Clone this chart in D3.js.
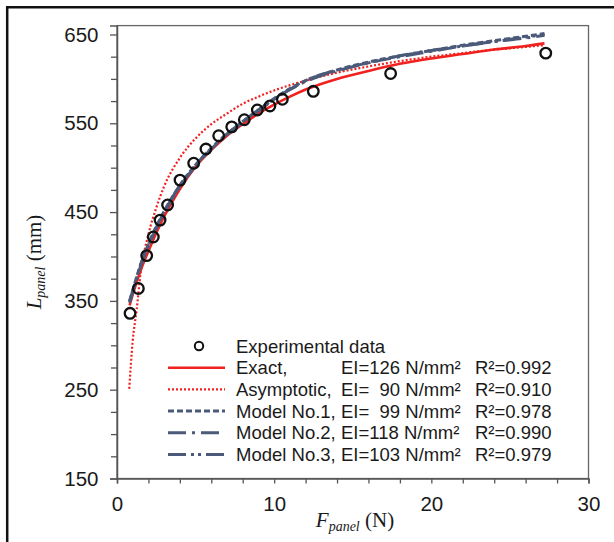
<!DOCTYPE html>
<html>
<head>
<meta charset="utf-8">
<script src="https://cdn.jsdelivr.net/npm/d3@7"></script>
<style>
  html, body { margin: 0; padding: 0; background: #fff; }
  svg { display: block; }
</style>
</head>
<body>
<svg id="chart" width="614" height="542"></svg>
<script>
// ---- data ----
const expF = [0.83, 1.36, 1.89, 2.31, 2.74, 3.22, 4.01, 4.88, 5.66, 6.47, 7.30, 8.10, 8.93, 9.73, 10.52, 12.49, 17.41, 27.28];
const expL = [336, 364, 401, 422, 441, 458, 486, 505, 521, 536, 546, 554, 565, 569.5, 577, 586, 606, 629];

const curveF   = [0.8, 1, 1.5, 2, 3, 4, 5, 6, 7, 8, 9, 10, 11, 12, 14, 16, 18, 20, 22, 24, 26, 27.2];
const exactL   = [345, 357, 384, 406, 445, 476, 501, 520, 536, 549, 561, 571, 580, 588, 600, 609, 617, 623, 628, 633, 637, 640];
const model1L  = [350, 362, 391, 414, 451, 480, 503, 522, 538, 552, 565, 578, 589, 598, 610, 619, 626, 632, 638, 643, 648, 651];
const model2L  = [348, 360, 389, 412, 449, 479, 502, 521, 537, 551, 564, 577, 588, 597, 609, 618, 625, 631, 637, 642, 646, 649];
const model3L  = [349, 361, 390, 413, 450, 480, 503, 522, 538, 552, 565, 577, 588, 598, 610, 618, 626, 632, 637, 642, 647, 650];

const asymF = [0.78, 1, 1.25, 1.5, 2, 2.5, 3, 4, 5, 6, 7, 8, 9, 10, 12, 14, 16, 18, 20, 22, 24, 26, 27.2];
const asymL = [251, 305, 340, 381, 425, 455, 479, 511, 533, 549, 561, 572, 580, 587, 598, 607, 614, 620, 625, 629, 633, 636, 638];

const yMajorTicks = [150, 250, 350, 450, 550, 650];
const yMinorTicks = [175, 200, 225, 275, 300, 325, 375, 400, 425, 475, 500, 525, 575, 600, 625];
const xMajorTicks = [0, 10, 20, 30];
const xMinorTicks = [2, 4, 6, 8, 12, 14, 16, 18, 22, 24, 26, 28];

const legendNames = ["Experimental data", "Exact,", "Asymptotic,", "Model No.1,", "Model No.2,", "Model No.3,"];
const legendEI    = ["", "EI=126 N/mm\u00B2", "EI=  90 N/mm\u00B2", "EI=  99 N/mm\u00B2", "EI=118 N/mm\u00B2", "EI=103 N/mm\u00B2"];
const legendR2    = ["", "R\u00B2=0.992", "R\u00B2=0.910", "R\u00B2=0.978", "R\u00B2=0.990", "R\u00B2=0.979"];

// ---- drawing ----
(function () {
const RED = "#f0211e";
const BLUE = "#4b5a78";
const svg = d3.select("#chart");
const pL = 117, pR = 588.5, pT = 25.6, pB = 478.5;

const x = d3.scaleLinear().domain([0, 30]).range([pL, pR]);
const y = d3.scaleLinear().domain([150, 660]).range([pB, pT]);

// outer partial frame
svg.append("line").attr("x1", 7).attr("x2", 614).attr("y1", 7.2).attr("y2", 7.2)
  .attr("stroke", "#111").attr("stroke-width", 2.5);
svg.append("line").attr("x1", 7.2).attr("x2", 7.2).attr("y1", 6).attr("y2", 542)
  .attr("stroke", "#111").attr("stroke-width", 2.5);

// plot box
svg.append("rect").attr("x", pL).attr("y", pT).attr("width", pR - pL).attr("height", pB - pT)
  .attr("fill", "none").attr("stroke", "#666").attr("stroke-width", 1.3);

const tickFont = "'Liberation Sans', Arial, sans-serif";

// y axis
svg.append("g").attr("transform", `translate(${pL},0)`)
  .call(d3.axisLeft(y).tickValues(yMajorTicks).tickSize(7).tickPadding(11.5).tickFormat(d3.format("d")));
svg.append("g").attr("transform", `translate(${pL},0)`)
  .call(d3.axisLeft(y).tickValues(yMinorTicks).tickSize(6).tickFormat(""))
  .select(".domain").remove();

// x axis
svg.append("g").attr("transform", `translate(0,${pB})`)
  .call(d3.axisBottom(x).tickValues(xMajorTicks).tickSize(5).tickPadding(12.5).tickFormat(d3.format("d")));
svg.append("g").attr("transform", `translate(0,${pB})`)
  .call(d3.axisBottom(x).tickValues(xMinorTicks).tickSize(5).tickFormat(""))
  .select(".domain").remove();

svg.selectAll(".domain").attr("stroke", "#555").attr("stroke-width", 1.5);
svg.selectAll(".tick line").attr("stroke", "#555").attr("stroke-width", 1.3);
svg.selectAll(".tick text").attr("font-family", tickFont).attr("font-size", 20.5).attr("fill", "#1a1a1a");

// clip
svg.append("clipPath").attr("id", "plotclip").append("rect")
  .attr("x", pL).attr("y", pT).attr("width", pR - pL).attr("height", pB - pT);
const plot = svg.append("g").attr("clip-path", "url(#plotclip)");

const line = d3.line().x(d => x(d[0])).y(d => y(d[1])).curve(d3.curveMonotoneX);

const series = [
  { f: curveF, l: exactL,  color: RED,  width: 2.6, dash: null },
  { f: asymF,  l: asymL,   color: RED,  width: 2.2, dash: "2,2" },
  { f: curveF, l: model1L, color: BLUE, width: 3, dash: "6,3" },
  { f: curveF, l: model2L, color: BLUE, width: 3, dash: "18,6,3,6" },
  { f: curveF, l: model3L, color: BLUE, width: 3, dash: "18,5,3,4,3,5" }
];
series.forEach(s => {
  plot.append("path")
    .datum(s.f.map((f, i) => [f, s.l[i]]))
    .attr("d", line)
    .attr("fill", "none")
    .attr("stroke", s.color)
    .attr("stroke-width", s.width)
    .attr("stroke-dasharray", s.dash);
});

// experimental points
plot.selectAll("circle.exp").data(expF.map((f, i) => [f, expL[i]])).enter()
  .append("circle").attr("class", "exp")
  .attr("cx", d => x(d[0])).attr("cy", d => y(d[1])).attr("r", 5.3)
  .attr("fill", "none").attr("stroke", "#111").attr("stroke-width", 2.3);

// legend
const legY0 = 346, legDy = 21.7;
const legText = svg.append("g").attr("font-family", tickFont).attr("font-size", 18.5).attr("fill", "#1a1a1a");
legendNames.forEach((name, i) => {
  const cy = legY0 + i * legDy;
  if (i === 0) {
    svg.append("circle").attr("cx", 199).attr("cy", cy).attr("r", 4.2)
      .attr("fill", "none").attr("stroke", "#111").attr("stroke-width", 2);
  } else {
    const s = series[i - 1];
    svg.append("line").attr("x1", 168).attr("x2", 225).attr("y1", cy).attr("y2", cy)
      .attr("stroke", s.color).attr("stroke-width", s.width).attr("stroke-dasharray", s.dash);
  }
  legText.append("text").attr("x", 236).attr("y", cy + 6.5).text(name);
  if (legendEI[i]) {
    legText.append("text").attr("x", 341).attr("y", cy + 6.5).style("white-space", "pre").text(legendEI[i]);
    legText.append("text").attr("x", 475).attr("y", cy + 6.5).text(legendR2[i]);
  }
});

// axis titles
const serif = "'Liberation Serif', 'Times New Roman', serif";
const xt = svg.append("text").attr("x", 355).attr("y", 527).attr("text-anchor", "middle")
  .attr("font-family", serif).attr("font-size", 21).attr("fill", "#1a1a1a");
xt.append("tspan").attr("font-style", "italic").text("F");
xt.append("tspan").attr("font-style", "italic").attr("font-size", 14).attr("dy", 4).text("panel");
xt.append("tspan").attr("dy", -4).text(" (N)");

const yt = svg.append("text").attr("transform", "translate(41,262) rotate(-90)").attr("text-anchor", "middle")
  .attr("font-family", serif).attr("font-size", 21).attr("fill", "#1a1a1a");
yt.append("tspan").attr("font-style", "italic").text("L");
yt.append("tspan").attr("font-style", "italic").attr("font-size", 14).attr("dy", 4).text("panel");
yt.append("tspan").attr("dy", -4).text(" (mm)");
})();
</script>
</body>
</html>
